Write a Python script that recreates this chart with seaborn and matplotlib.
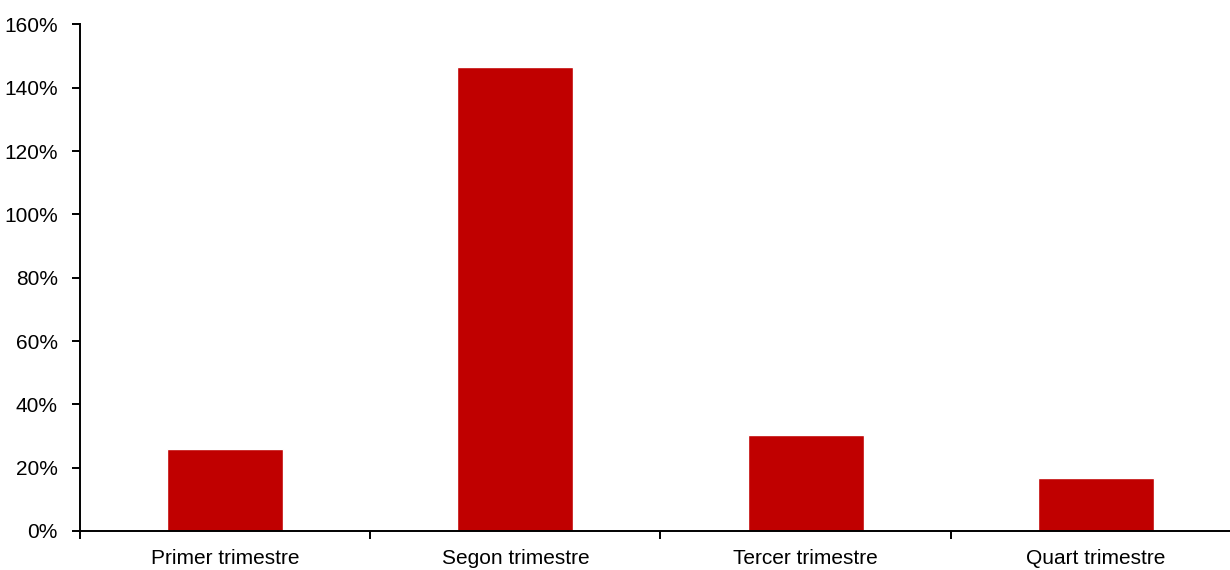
import matplotlib
matplotlib.use("Agg")
import matplotlib.pyplot as plt
from matplotlib.ticker import FuncFormatter, FixedLocator
import seaborn as sns
import pandas as pd

# Quarterly values (percent)
quarters = ["Primer trimestre", "Segon trimestre", "Tercer trimestre", "Quart trimestre"]
values = [25.8, 146.5, 30.2, 16.6]
y_ticks = [0, 20, 40, 60, 80, 100, 120, 140, 160]

sns.set_style("white")
plt.rcParams["font.family"] = ["Liberation Sans", "DejaVu Sans"]

df = pd.DataFrame({"trimestre": quarters, "valor": values})

fig = plt.figure(figsize=(12.3, 5.7), dpi=100)
W, H = 1230, 570
ax = fig.add_axes([80 / W, (H - 531) / H, (1241 - 80) / W, (531 - 24.5) / H])

sns.barplot(data=df, x="trimestre", y="valor", color="#C00000", width=0.4,
            saturation=1, ax=ax)

ax.set_xlim(-0.5, len(quarters) - 0.5)
ax.set_ylim(0, 160)
ax.set_xlabel("")
ax.set_ylabel("")

# y axis: percent labels
ax.yaxis.set_major_locator(FixedLocator(y_ticks))
ax.yaxis.set_major_formatter(FuncFormatter(lambda v, p: f"{v:.0f}%"))
ax.tick_params(axis="y", which="major", direction="out", length=6, width=1.4,
               pad=10, labelsize=15, color="black", labelcolor="black", left=True)

# x axis: separator ticks between categories, labels centred on bars
centres = list(range(len(quarters)))
bounds = [c - 0.5 for c in centres] + [len(quarters) - 0.5]
ax.xaxis.set_major_locator(FixedLocator(bounds))
ax.xaxis.set_major_formatter(FuncFormatter(lambda v, p: ""))
ax.xaxis.set_minor_locator(FixedLocator(centres))
ax.set_xticklabels(quarters, minor=True)
ax.tick_params(axis="x", which="major", direction="out", length=6, width=1.4,
               color="black", bottom=True)
ax.tick_params(axis="x", which="minor", length=0, pad=13, labelsize=15,
               labelcolor="black")

for side in ["top", "right"]:
    ax.spines[side].set_visible(False)
for side in ["left", "bottom"]:
    ax.spines[side].set_linewidth(1.4)
    ax.spines[side].set_color("black")

fig.savefig("out.png", dpi=100)
